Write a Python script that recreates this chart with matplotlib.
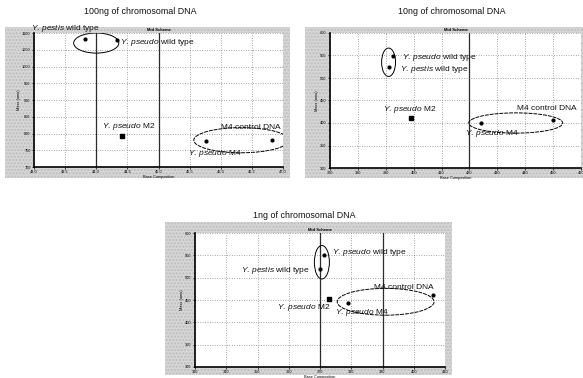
"""Three scatter panels: base composition of Y. pestis / Y. pseudo samples."""

import matplotlib
matplotlib.use('Agg')

import matplotlib.pyplot as plt
from matplotlib.patches import Ellipse, Rectangle


# ----------------------------- data -----------------------------------------

titles = ['100ng of chromosomal DNA', '10ng of chromosomal DNA',
          '1ng of chromosomal DNA']

samples = ['pestis_wt', 'pseudo_wt', 'pseudo_m2', 'pseudo_m4', 'm4_control']

# point positions in tick units, one list per panel (same order as samples)
x_100ng = [1.65, 2.67, 2.83, 5.54, 7.66]
y_100ng = [7.66, 7.56, 1.84, 1.54, 1.64]
x_10ng = [2.13, 2.25, 2.90, 5.41, 8.01]
y_10ng = [4.47, 4.96, 2.22, 2.00, 2.15]
x_1ng = [3.99, 4.14, 4.30, 4.90, 7.60]
y_1ng = [4.38, 5.02, 3.03, 2.88, 3.22]

# tick labels (barely legible in the scan)
xticks_100ng = ['43.0', '43.5', '44.0', '44.5', '45.0', '45.5', '46.0',
                '46.5', '47.0']
yticks_100ng = ['700', '750', '800', '850', '900', '950', '1000', '1050',
                '1100']
xticks_10ng = ['370', '380', '390', '400', '410', '420', '430', '440',
               '450', '460']
yticks_10ng = ['300', '350', '400', '450', '500', '550', '600']
xticks_1ng = ['330', '340', '350', '360', '370', '380', '390', '400', '410']
yticks_1ng = ['300', '350', '400', '450', '500', '550', '600']

PESTIS = r'$\it{Y.\,pestis}$'
PSEUDO = r'$\it{Y.\,pseudo}$'


# ----------------------------------------------------------------------------

plt.rcParams['font.family'] = ['Liberation Sans', 'DejaVu Sans']
plt.rcParams['mathtext.fontset'] = 'custom'
plt.rcParams['mathtext.it'] = 'Liberation Sans:italic'
plt.rcParams['mathtext.rm'] = 'Liberation Sans'

W, H = 583, 378
fig = plt.figure(figsize=(W / 100, H / 100), dpi=100)
fig.patch.set_facecolor('white')


def frac(left, top, right, bottom):
    """pixel box -> figure fraction [l, b, w, h]"""
    return [left / W, 1 - bottom / H, (right - left) / W, (bottom - top) / H]


def grey_frame(left, top, right, bottom):
    l, b, w, h = frac(left, top, right, bottom)
    fig.patches.append(Rectangle((l, b), w, h, transform=fig.transFigure,
                                 facecolor='#d6d6d6', edgecolor='#bdbdbd',
                                 hatch='.....', linewidth=0, zorder=-10))


def make_panel(box, xs, ys, xlabels, ylabels, solid_x):
    ax = fig.add_axes(frac(*box), zorder=5)
    ax.set_facecolor('white')
    nx, ny = len(xlabels) - 1, len(ylabels) - 1
    ax.set_xlim(0, nx)
    ax.set_ylim(0, ny)
    ax.set_xticks(range(nx + 1))
    ax.set_xticklabels(xlabels)
    ax.set_yticks(range(ny + 1))
    ax.set_yticklabels(ylabels)
    ax.tick_params(labelsize=2.8, length=1.2, width=0.5, pad=1.2)
    ax.grid(True, color='#555555', linestyle=(0, (1, 2.5)), linewidth=0.5)
    for xv in solid_x:
        ax.axvline(xv, color='#222222', linewidth=0.9, zorder=1)
    for side in ('top', 'right'):
        ax.spines[side].set_visible(False)
    for side in ('left', 'bottom'):
        ax.spines[side].set_linewidth(1.2)
    ax.set_xlabel('Base Composition', fontsize=2.8, labelpad=0.5)
    ax.set_ylabel('Mass (amu)', fontsize=2.8, labelpad=0.5)
    ax.set_title('Mid Scheme', fontsize=3, pad=1.5, fontweight='bold')

    # wild types and M4 as dots, M2 as a square
    ax.scatter([xs[0], xs[1], xs[3], xs[4]], [ys[0], ys[1], ys[3], ys[4]],
               s=4, color='black', zorder=3, clip_on=False)
    ax.scatter([xs[2]], [ys[2]], s=8, marker='s', color='black', zorder=3)
    return ax


txt = dict(fontsize=6, color='#111111', va='center')
ttl = dict(ha='center', va='center', fontsize=6.4, color='#111111')

# panel 1 -------------------------------------------------------------------
grey_frame(5, 27, 290, 178)
ax1 = make_panel((34, 33, 283, 167), x_100ng, y_100ng,
                 xticks_100ng, yticks_100ng, solid_x=[2, 4])
ax1.add_patch(Ellipse((2.0, 7.4), 1.45, 1.2, fill=False, lw=0.7))
ax1.add_patch(Ellipse((6.66, 1.6), 3.05, 1.5, fill=False, lw=0.7,
                      linestyle=(0, (4, 1))))
ax1.text(-0.1, 8.25, PESTIS + ' wild type', clip_on=False, **txt)
ax1.text(2.75, 7.45, PSEUDO + ' wild type', **txt)
ax1.text(2.2, 2.4, PSEUDO + ' M2', **txt)
ax1.text(6.0, 2.35, 'M4 control DNA', **txt)
ax1.text(4.95, 0.8, PSEUDO + ' M4', **txt)
fig.text(140 / W, 1 - 12 / H, titles[0], **ttl)

# panel 2 -------------------------------------------------------------------
grey_frame(305, 27, 583, 178)
ax2 = make_panel((330, 33, 581, 168), x_10ng, y_10ng,
                 xticks_10ng, yticks_10ng, solid_x=[5])
ax2.add_patch(Ellipse((2.1, 4.7), 0.5, 1.26, fill=False, lw=0.7))
ax2.add_patch(Ellipse((6.66, 2.0), 3.37, 0.9, fill=False, lw=0.7,
                      linestyle=(0, (4, 1))))
ax2.text(2.57, 4.89, PSEUDO + ' wild type', **txt)
ax2.text(2.52, 4.37, PESTIS + ' wild type', **txt)
ax2.text(1.9, 2.6, PSEUDO + ' M2', **txt)
ax2.text(6.7, 2.64, 'M4 control DNA', clip_on=False, **txt)
ax2.text(4.85, 1.53, PSEUDO + ' M4', **txt)
fig.text(452 / W, 1 - 12 / H, titles[1], **ttl)

# panel 3 -------------------------------------------------------------------
grey_frame(165, 222, 452, 375)
ax3 = make_panel((195, 233, 445, 367), x_1ng, y_1ng,
                 xticks_1ng, yticks_1ng, solid_x=[4, 6])
ax3.add_patch(Ellipse((4.06, 4.69), 0.48, 1.5, fill=False, lw=0.7))
ax3.add_patch(Ellipse((6.1, 2.92), 3.1, 1.2, fill=False, lw=0.7,
                      linestyle=(0, (4, 1))))
ax3.text(4.38, 5.13, PSEUDO + ' wild type', **txt)
ax3.text(3.67, 4.32, PESTIS + ' wild type', ha='right', **txt)
ax3.text(4.33, 2.65, PSEUDO + ' M2', ha='right', **txt)
ax3.text(5.74, 3.55, 'M4 control DNA', **txt)
ax3.text(4.47, 2.43, PSEUDO + ' M4', **txt)
fig.text(304 / W, 1 - 215 / H, titles[2], **ttl)

fig.savefig('out.png', dpi=100)
